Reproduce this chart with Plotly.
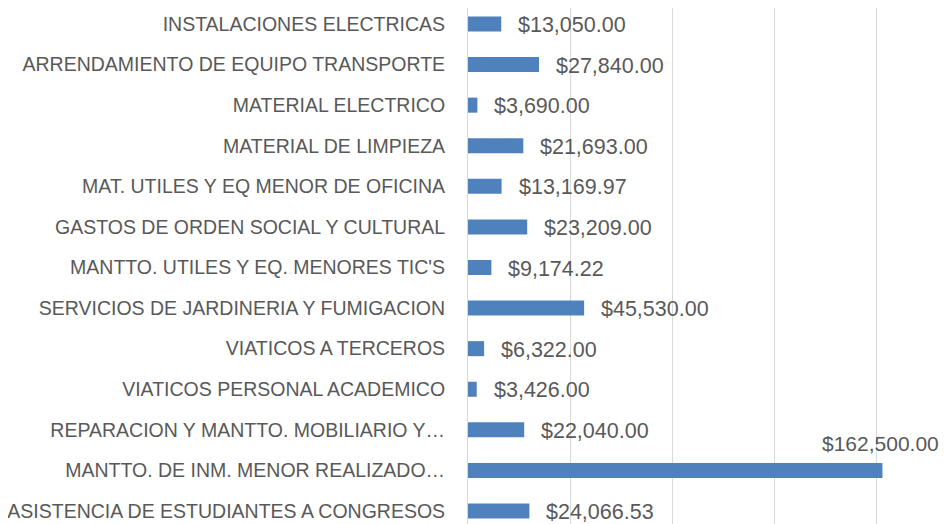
import plotly.graph_objects as go

categories = [
    "INSTALACIONES ELECTRICAS",
    "ARRENDAMIENTO DE EQUIPO TRANSPORTE",
    "MATERIAL ELECTRICO",
    "MATERIAL DE LIMPIEZA",
    "MAT. UTILES Y EQ MENOR DE OFICINA",
    "GASTOS DE ORDEN SOCIAL Y CULTURAL",
    "MANTTO. UTILES Y EQ. MENORES TIC'S",
    "SERVICIOS DE JARDINERIA Y FUMIGACION",
    "VIATICOS A TERCEROS",
    "VIATICOS PERSONAL ACADEMICO",
    "REPARACION Y MANTTO. MOBILIARIO Y…",
    "MANTTO. DE INM. MENOR REALIZADO…",
    "ASISTENCIA DE ESTUDIANTES A CONGRESOS",
]
values = [13050.00, 27840.00, 3690.00, 21693.00, 13169.97, 23209.00, 9174.22,
          45530.00, 6322.00, 3426.00, 22040.00, 162500.00, 24066.53]

labels = ["${:,.2f}".format(v) for v in values]

bar_color = "#4F81BD"
text_color = "#595959"
grid_color = "#D9D9D9"

fig = go.Figure()
fig.add_trace(go.Bar(
    x=values, y=categories, orientation="h",
    marker=dict(color=bar_color, line=dict(width=0)),
    hoverinfo="skip",
))

max_v = max(values)
for c, v, t in zip(categories, values, labels):
    if v == max_v:
        fig.add_annotation(x=v, y=c, text=t, showarrow=False,
                           xanchor="center", yanchor="middle",
                           xshift=-2, yshift=27,
                           font=dict(family="Liberation Sans", size=21, color=text_color))
    else:
        fig.add_annotation(x=v, y=c, text=t, showarrow=False,
                           xanchor="left", yanchor="middle",
                           xshift=15, yshift=-1,
                           font=dict(family="Liberation Sans", size=21.5, color=text_color))

fig.update_layout(
    width=941, height=516,
    margin=dict(l=460, r=0, t=0, b=0, autoexpand=False),
    paper_bgcolor="white", plot_bgcolor="white",
    bargap=0.63,
    showlegend=False,
    font=dict(family="Liberation Sans", color=text_color),
)
fig.update_xaxes(
    range=[0, 188600], tick0=0, dtick=40000, automargin=False,
    showgrid=True, gridcolor=grid_color, gridwidth=1,
    showticklabels=False, zeroline=False, showline=False, ticks="",
)
fig.update_yaxes(
    categoryorder="array", categoryarray=categories, automargin=False,
    range=[12.32, -0.394],
    showline=True, linecolor=grid_color, linewidth=1,
    showgrid=False, ticks="", ticklabelstandoff=18,
    tickfont=dict(family="Liberation Sans", size=19.5, color=text_color),
)

fig.write_html("out.html")
